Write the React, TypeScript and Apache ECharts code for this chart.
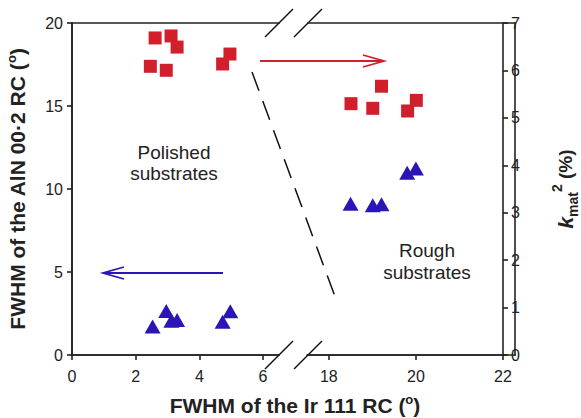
import React, { useEffect, useRef } from "react";
import * as echarts from "echarts";

// Polished substrates (left x segment 0–6.5)
const polishedSqX = [2.61, 3.11, 3.3, 2.46, 2.96, 4.73, 4.96];
const polishedFwhm = [19.1, 19.22, 18.55, 17.39, 17.15, 17.53, 18.13];
const polishedTriX = [2.53, 2.96, 3.12, 3.3, 4.73, 4.97];
const polishedK = [0.6, 0.93, 0.72, 0.74, 0.7, 0.92];
// Rough substrates (right x segment 17.5–22)
const roughSqX = [18.51, 19.01, 19.21, 19.81, 20.01];
const roughFwhm = [15.14, 14.86, 16.19, 14.7, 15.34];
const roughTriX = [18.5, 19.01, 19.21, 19.8, 20.0];
const roughK = [3.19, 3.16, 3.18, 3.84, 3.93];

const leftXTicks = [0, 2, 4, 6];
const rightXTicks = [18, 20, 22];

const FONT = "Liberation Sans, Arial, sans-serif";
const AX = "#222222";
const RED = "#d21f2c";
const BLUE = "#2a16b6";

const zip = (a: number[], b: number[]) => a.map((v, i) => [v, b[i]]);

const mkLine = () => ({ show: true, onZero: false, lineStyle: { color: AX, width: 1.6, opacity: 1 } });
const mkTick = () => ({ show: true, inside: false, length: 5, lineStyle: { color: AX, width: 1.6 } });
const mkLabel = () => ({ fontSize: 16, color: "#222", fontFamily: FONT });

// plot frame geometry (pixels)
const L = 72, R = 515, T = 23, B = 355, BR1 = 279, BR2 = 308;

export default function App() {
  const ref = useRef<HTMLDivElement>(null);
  useEffect(() => {
    if (!ref.current) return;
    const chart = echarts.init(ref.current, null, { renderer: "svg" });
    const baseX = (grid: number, min: number, max: number, ticks: number[]) => ({
      type: "value",
      gridIndex: grid,
      position: "bottom",
      min,
      max,
      axisLine: mkLine(),
      axisTick: { ...mkTick(), customValues: ticks },
      axisLabel: { ...mkLabel(), margin: 13, customValues: ticks },
      splitLine: { show: false },
    });
    const hbar = (x1: number, x2: number, y: number) => ({
      type: "rect",
      z: 100,
      silent: true,
      shape: { x: x1 - 0.8, y: y - 0.8, width: x2 - x1 + 1.6, height: 1.6 },
      style: { fill: AX },
    });
    const vbar = (x: number, y1: number, y2: number) => ({
      type: "rect",
      z: 100,
      silent: true,
      shape: { x: x - 0.8, y: y1 - 0.8, width: 1.6, height: y2 - y1 + 1.6 },
      style: { fill: AX },
    });
    const slash = (x: number, y: number) => ({
      type: "line",
      z: 50,
      shape: { x1: x - 14, y1: y + 14, x2: x + 14, y2: y - 14 },
      style: { stroke: "#111", lineWidth: 1.5 },
    });
    const arrowHead = (x: number, y: number, dir: number, color: string) => ({
      type: "polyline",
      shape: { points: [[x - dir * 21, y - 6], [x, y], [x - dir * 21, y + 6]] },
      style: { stroke: color, lineWidth: 1.8, fill: null },
    });
    chart.setOption({
      animation: false,
      grid: [
        { left: L, right: 581 - BR1, top: T, bottom: 418 - B },
        { left: BR2 - 1, right: 581 - R, top: T, bottom: 418 - B },
      ],
      xAxis: [baseX(0, 0, 6.5, leftXTicks), baseX(1, 17.5, 22, rightXTicks)],
      yAxis: [
        {
          type: "value",
          gridIndex: 0,
          position: "left",
          min: 0,
          max: 20,
          interval: 5,
          axisLine: mkLine(),
          axisTick: mkTick(),
          axisLabel: { ...mkLabel(), margin: 9 },
          splitLine: { show: false },
          name: "FWHM of the AlN 00·2 RC ({s|o})",
          nameLocation: "middle",
          nameRotate: 90,
          nameGap: 43,
          nameTextStyle: {
            fontSize: 21,
            fontWeight: "bold",
            color: "#222",
            fontFamily: FONT,
            rich: {
              s: { fontSize: 13, fontWeight: "bold", fontFamily: FONT, color: "#222", verticalAlign: "top", lineHeight: 24 },
            },
          },
        },
        { type: "value", gridIndex: 0, position: "right", min: 0, max: 7, show: false },
        { type: "value", gridIndex: 1, position: "left", min: 0, max: 20, show: false },
        {
          type: "value",
          gridIndex: 1,
          position: "right",
          min: 0,
          max: 7,
          interval: 1,
          axisLine: mkLine(),
          axisTick: mkTick(),
          axisLabel: { ...mkLabel(), margin: 8 },
          splitLine: { show: false },
          name: "{k|k}{b|mat}{t|2}{n| (%)}",
          nameLocation: "middle",
          nameRotate: 90,
          nameGap: 47,
          nameTextStyle: {
            color: "#222",
            fontFamily: FONT,
            rich: {
              k: { fontSize: 21, fontWeight: "bold", fontStyle: "italic", fontFamily: FONT, color: "#222", lineHeight: 30 },
              b: { fontSize: 14, fontWeight: "bold", fontFamily: FONT, color: "#222", verticalAlign: "bottom" },
              t: { fontSize: 14, fontWeight: "bold", fontFamily: FONT, color: "#222", verticalAlign: "top" },
              n: { fontSize: 19, fontWeight: "bold", fontFamily: FONT, color: "#222" },
            },
          },
        },
      ],
      series: [
        {
          type: "scatter",
          xAxisIndex: 0,
          yAxisIndex: 0,
          symbol: "rect",
          symbolSize: 13,
          itemStyle: { color: RED, opacity: 1 },
          data: zip(polishedSqX, polishedFwhm),
        },
        {
          type: "scatter",
          xAxisIndex: 0,
          yAxisIndex: 1,
          symbol: "triangle",
          symbolSize: [16, 14],
          itemStyle: { color: BLUE, opacity: 1 },
          data: zip(polishedTriX, polishedK),
        },
        {
          type: "scatter",
          xAxisIndex: 1,
          yAxisIndex: 2,
          symbol: "rect",
          symbolSize: 13,
          itemStyle: { color: RED, opacity: 1 },
          data: zip(roughSqX, roughFwhm),
        },
        {
          type: "scatter",
          xAxisIndex: 1,
          yAxisIndex: 3,
          symbol: "triangle",
          symbolSize: [16, 14],
          itemStyle: { color: BLUE, opacity: 1 },
          data: zip(roughTriX, roughK),
        },
      ],
      graphic: [
        vbar(L, T, B),
        vbar(R, T, B),
        hbar(L, BR1, T),
        hbar(BR2, R, T),
        hbar(L, BR1, B),
        hbar(BR2, R, B),
        slash(BR1, T),
        slash(BR2, T),
        slash(BR1, B),
        slash(BR2, B),
        {
          type: "line",
          shape: { x1: 252, y1: 72, x2: 337, y2: 302 },
          style: { stroke: "#111", lineWidth: 1.5, lineDash: [20, 11] },
        },
        { type: "line", shape: { x1: 260, y1: 61, x2: 384, y2: 61 }, style: { stroke: RED, lineWidth: 1.8 } },
        arrowHead(384, 61, 1, RED),
        { type: "line", shape: { x1: 223, y1: 273, x2: 103, y2: 273 }, style: { stroke: BLUE, lineWidth: 1.8 } },
        arrowHead(103, 273, -1, BLUE),
        {
          type: "text",
          x: 174,
          y: 163,
          style: {
            text: "Polished\nsubstrates",
            fontSize: 19,
            fontFamily: FONT,
            fill: "#222",
            align: "center",
            verticalAlign: "middle",
            lineHeight: 21,
          },
        },
        {
          type: "text",
          x: 427,
          y: 261,
          style: {
            text: "Rough\nsubstrates",
            fontSize: 19,
            fontFamily: FONT,
            fill: "#222",
            align: "center",
            verticalAlign: "middle",
            lineHeight: 22,
          },
        },
        {
          type: "text",
          x: 295,
          y: 405,
          style: {
            text: "FWHM of the Ir 111 RC ({s|o})",
            fontSize: 21,
            fontWeight: "bold",
            fontFamily: FONT,
            fill: "#222",
            align: "center",
            verticalAlign: "middle",
            rich: {
              s: { fontSize: 13, fontWeight: "bold", fontFamily: FONT, fill: "#222", verticalAlign: "top", lineHeight: 24 },
            },
          },
        },
      ],
    });
    return () => chart.dispose();
  }, []);
  return <div ref={ref} style={{ width: 581, height: 418, position: "absolute", left: 0, top: 0 }} />;
}
